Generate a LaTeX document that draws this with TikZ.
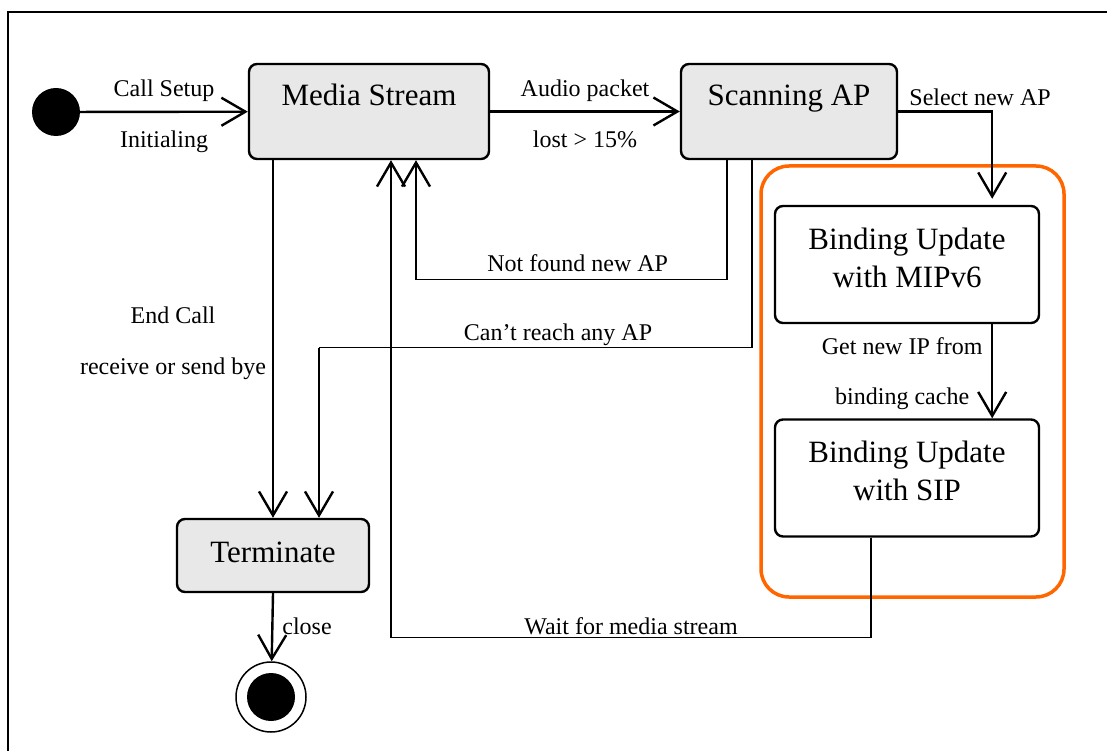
\documentclass[tikz,border=0pt]{standalone}
\usepackage{fontspec}
\setmainfont{Liberation Serif}
\usepackage{tikz}
\usetikzlibrary{arrows.meta,positioning}
\newcommand{\statefont}{\fontsize{31}{38}\selectfont}
\newcommand{\labelfont}{\fontsize{24}{29}\selectfont}
\definecolor{stategray}{RGB}{232,232,232}
\definecolor{grouporange}{RGB}{255,102,0}

\begin{document}
\begin{tikzpicture}[
x=1pt,
y=-1pt,
state/.style={
  draw,
  rounded corners=8pt,
  line width=2.4pt,
  fill=stategray,
  inner sep=0pt,
  font=\statefont,
  text height=42pt,
  text depth=53pt
  },
update/.style={
  state,
  fill=white,
  align=center,
  minimum width=264pt,
  text height=81pt,
  text depth=36pt
  },
dot/.style={
  circle,
  fill=black,
  inner sep=0pt,
  minimum size=48pt
  },
lbl/.style={
  font=\labelfont,
  inner sep=0pt
  },
flow/.style={
  line width=2.4pt
  },
link/.style={
  line width=1.3pt
  },
>={Straight Barb[length=24pt,width=28pt,line width=2.4pt]}
]
\useasboundingbox (0,0) rectangle (1107,751);
\draw[line width=1.6pt] (8,751) -- (8,12) -- (1107,12);

\draw[grouporange, line width=3.5pt, rounded corners=28pt] (761,166) rectangle (1064,597);

\node[dot] (init) at (56,112) {};
\node[state, minimum width=240pt] (media) at (369,111.5) {Media Stream};
\node[state, minimum width=216pt] (scan) at (789,111.5) {Scanning AP};
\node[state, minimum width=192pt, text height=43pt, text depth=30pt] (term) at (273,555.5) {Terminate};
\node[update] (mip) at (907,264.5) {Binding Update\\with MIPv6};
\node[update] (sip) at (907,478) {Binding Update\\with SIP};
\node[circle, draw, line width=1.5pt, minimum size=70pt, inner sep=0pt] (final) at (271,697) {};
\node[dot] (finaldot) at (final) {};

\coordinate (reach) at ([xshift=46pt, yshift=170pt]term.north);
\coordinate (waitend) at ([xshift=22pt]media.south);
\coordinate (waitlow) at ([yshift=-100pt]sip.south);

\draw[flow,->] (init) -- node[lbl, above=9pt] {Call Setup} node[lbl, below=18pt] {Initialing} (media);
\draw[flow,->] (media) -- node[lbl, above=9pt] {Audio packet} node[lbl, below=18pt] {lost > 15\%} (scan);
\draw[flow,->, shorten >=6pt] (scan.east) node[lbl, anchor=south west, xshift=10pt, yshift=5pt] {Select new AP}
  -| ([xshift=-48pt]mip.north east);
\draw[flow,->] ([xshift=-48pt]mip.south east) --
  node[lbl, pos=.32, anchor=base, xshift=-90pt] {Get new IP from}
  node[lbl, pos=.854, anchor=base, xshift=-90pt] {binding cache} ([xshift=-48pt]sip.north east);
\draw[link,->] ([xshift=-62pt]scan.south) |-
  node[lbl, pos=.74, anchor=base, yshift=8pt] {Not found new AP}
  ([xshift=47pt, yshift=-119pt]media.south) -- ([xshift=47pt]media.south);
\draw[link] ([xshift=-37pt]scan.south) |- node[lbl, pos=.724, anchor=base, yshift=7pt] {Can’t reach any AP} (reach);
\draw[flow,->] (reach) -- (reach |- term.north);
\draw[flow,->] (media.south -| term.north) --
  node[lbl, pos=.456, anchor=base, xshift=-100pt] {End Call}
  node[lbl, pos=.6, anchor=base, xshift=-100pt] {receive or send bye} (term.north);
\draw[link] ([xshift=-36pt]sip.south) |- node[lbl, pos=.75, anchor=base, yshift=3pt] {Wait for media stream} (waitend |- waitlow);
\draw[flow,->] (waitend |- waitlow) -- (waitend);
\draw[flow,->] (term.south) -- node[lbl, pos=.6, anchor=base west, xshift=9pt] {close} (final);
\end{tikzpicture}
\end{document}
